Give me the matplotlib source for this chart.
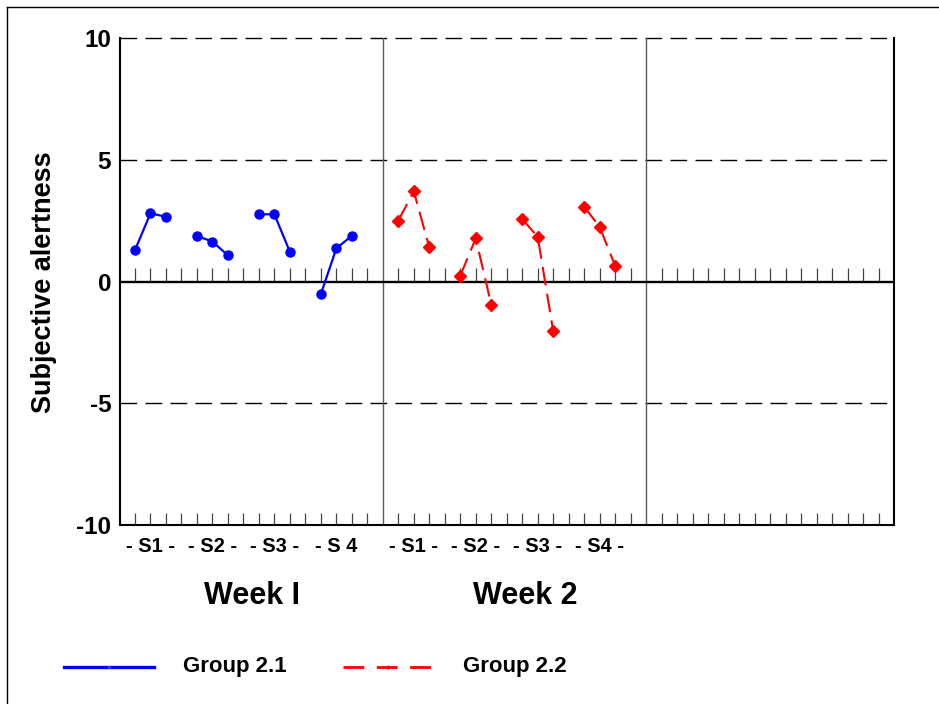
import matplotlib
matplotlib.use("Agg")
import matplotlib.pyplot as plt
from matplotlib.lines import Line2D

plt.rcParams["font.family"] = ["Liberation Sans", "DejaVu Sans"]
plt.rcParams["font.weight"] = "bold"
plt.rcParams["axes.unicode_minus"] = False

# Session positions on the x scale (three measurements per session)
week1_sessions = [[1, 2, 3], [5, 6, 7], [9, 10, 11], [13, 14, 15]]
week2_sessions = [[18, 19, 20], [22, 23, 24], [26, 27, 28], [30, 31, 32]]

# Subjective alertness scores
group_21 = [[1.30, 2.81, 2.67], [1.88, 1.65, 1.08], [2.77, 2.77, 1.23], [-0.51, 1.37, 1.89]]
group_22 = [[2.51, 3.71, 1.41], [0.25, 1.78, -0.94], [2.58, 1.84, -2.04], [3.08, 2.25, 0.65]]

session_label_pos = [2, 6, 10, 14, 19, 23, 27, 31]
session_labels = ["- S1 -", "- S2 -", "- S3 -", "- S 4", "- S1 -", "- S2 -", "- S3 -", "- S4 -"]
week_labels = ["Week I", "Week 2"]
week_label_pos = [8.55, 26.2]
panel_dividers = [17, 34]
y_ticks = [-10, -5, 0, 5, 10]
series_names = ["Group 2.1", "Group 2.2"]

fig = plt.figure(figsize=(9.39, 7.04), dpi=100)
ax = fig.add_axes([119.5 / 939, 1 - 525 / 704, (894 - 119.5) / 939, (525 - 38.4) / 704])
ax.set_xlim(0, 50)
ax.set_ylim(-10, 10)

# Frame
ax.spines["top"].set_visible(False)
for side in ["left", "right", "bottom"]:
    ax.spines[side].set_linewidth(1.5)
    ax.spines[side].set_color("black")

# Dashed reference lines
for yv in [10, 5, -5]:
    ax.axhline(yv, color="black", lw=1.0, linestyle=(0, (12, 6)), zorder=1, clip_on=False)
ax.axhline(0, color="black", lw=1.7, zorder=2)

# Panel dividers
for xv in panel_dividers:
    ax.axvline(xv, color="#5a5a5a", lw=1.0, zorder=1)

# Small vertical ticks along zero line and bottom
tick_x = [i for i in range(1, 50) if i not in panel_dividers]
ax.vlines(tick_x, 0, 0.57, color="#444444", lw=0.9, zorder=1)
ax.vlines(tick_x, -10, -9.5, color="#444444", lw=0.9, zorder=1)

# Data
for xs, ys in zip(week1_sessions, group_21):
    ax.plot(xs, ys, color="#0000ff", lw=1.6, marker="o", markersize=6.5, zorder=3)
for xs, ys in zip(week2_sessions, group_22):
    ax.plot(xs, ys, color="#ff0000", lw=1.5, linestyle=(0, (9, 4)), marker="D",
            markersize=6, zorder=3)

# Axes ticks and labels
ax.set_yticks(y_ticks)
ax.set_yticklabels([str(v) for v in y_ticks], fontsize=17.5, fontweight="bold")
ax.tick_params(axis="y", length=0, pad=6)
ax.set_xticks(session_label_pos)
ax.set_xticklabels(session_labels, fontsize=14.5, fontweight="bold")
ax.tick_params(axis="x", length=0, pad=9)
ax.set_ylabel("Subjective alertness", fontsize=19.5, fontweight="bold", labelpad=14)

for txt, xpos in zip(week_labels, week_label_pos):
    ax.text(xpos, -12.9, txt, fontsize=22, fontweight="bold", ha="center", va="center")

# Legend
def fx(px):
    return px / 939

def fy(py):
    return 1 - py / 704

fig.add_artist(Line2D([fx(64), fx(154)], [fy(666.5), fy(666.5)], color="#0000ff", lw=2.4))
fig.add_artist(Line2D([fx(109)], [fy(666.5)], color="#3a3aff", marker="o", markersize=1.5, lw=0))
fig.text(fx(183), fy(666.5), series_names[0], fontsize=16, fontweight="bold", ha="left", va="center")
fig.add_artist(Line2D([fx(343), fx(433)], [fy(666.5), fy(666.5)], color="#ff0000", lw=2.0,
                      linestyle=(0, (7.5, 4.5))))
fig.add_artist(Line2D([fx(388)], [fy(666.5)], color="#ff0000", marker="D", markersize=1.5, lw=0))
fig.text(fx(463), fy(666.5), series_names[1], fontsize=16, fontweight="bold", ha="left", va="center")

# Outer border
fig.add_artist(Line2D([fx(7.3), 1.0], [fy(7.3), fy(7.3)], color="black", lw=1.0))
fig.add_artist(Line2D([fx(7.3), fx(7.3)], [fy(7.3), 0.0], color="black", lw=1.0))

fig.savefig("out.png", dpi=100)
